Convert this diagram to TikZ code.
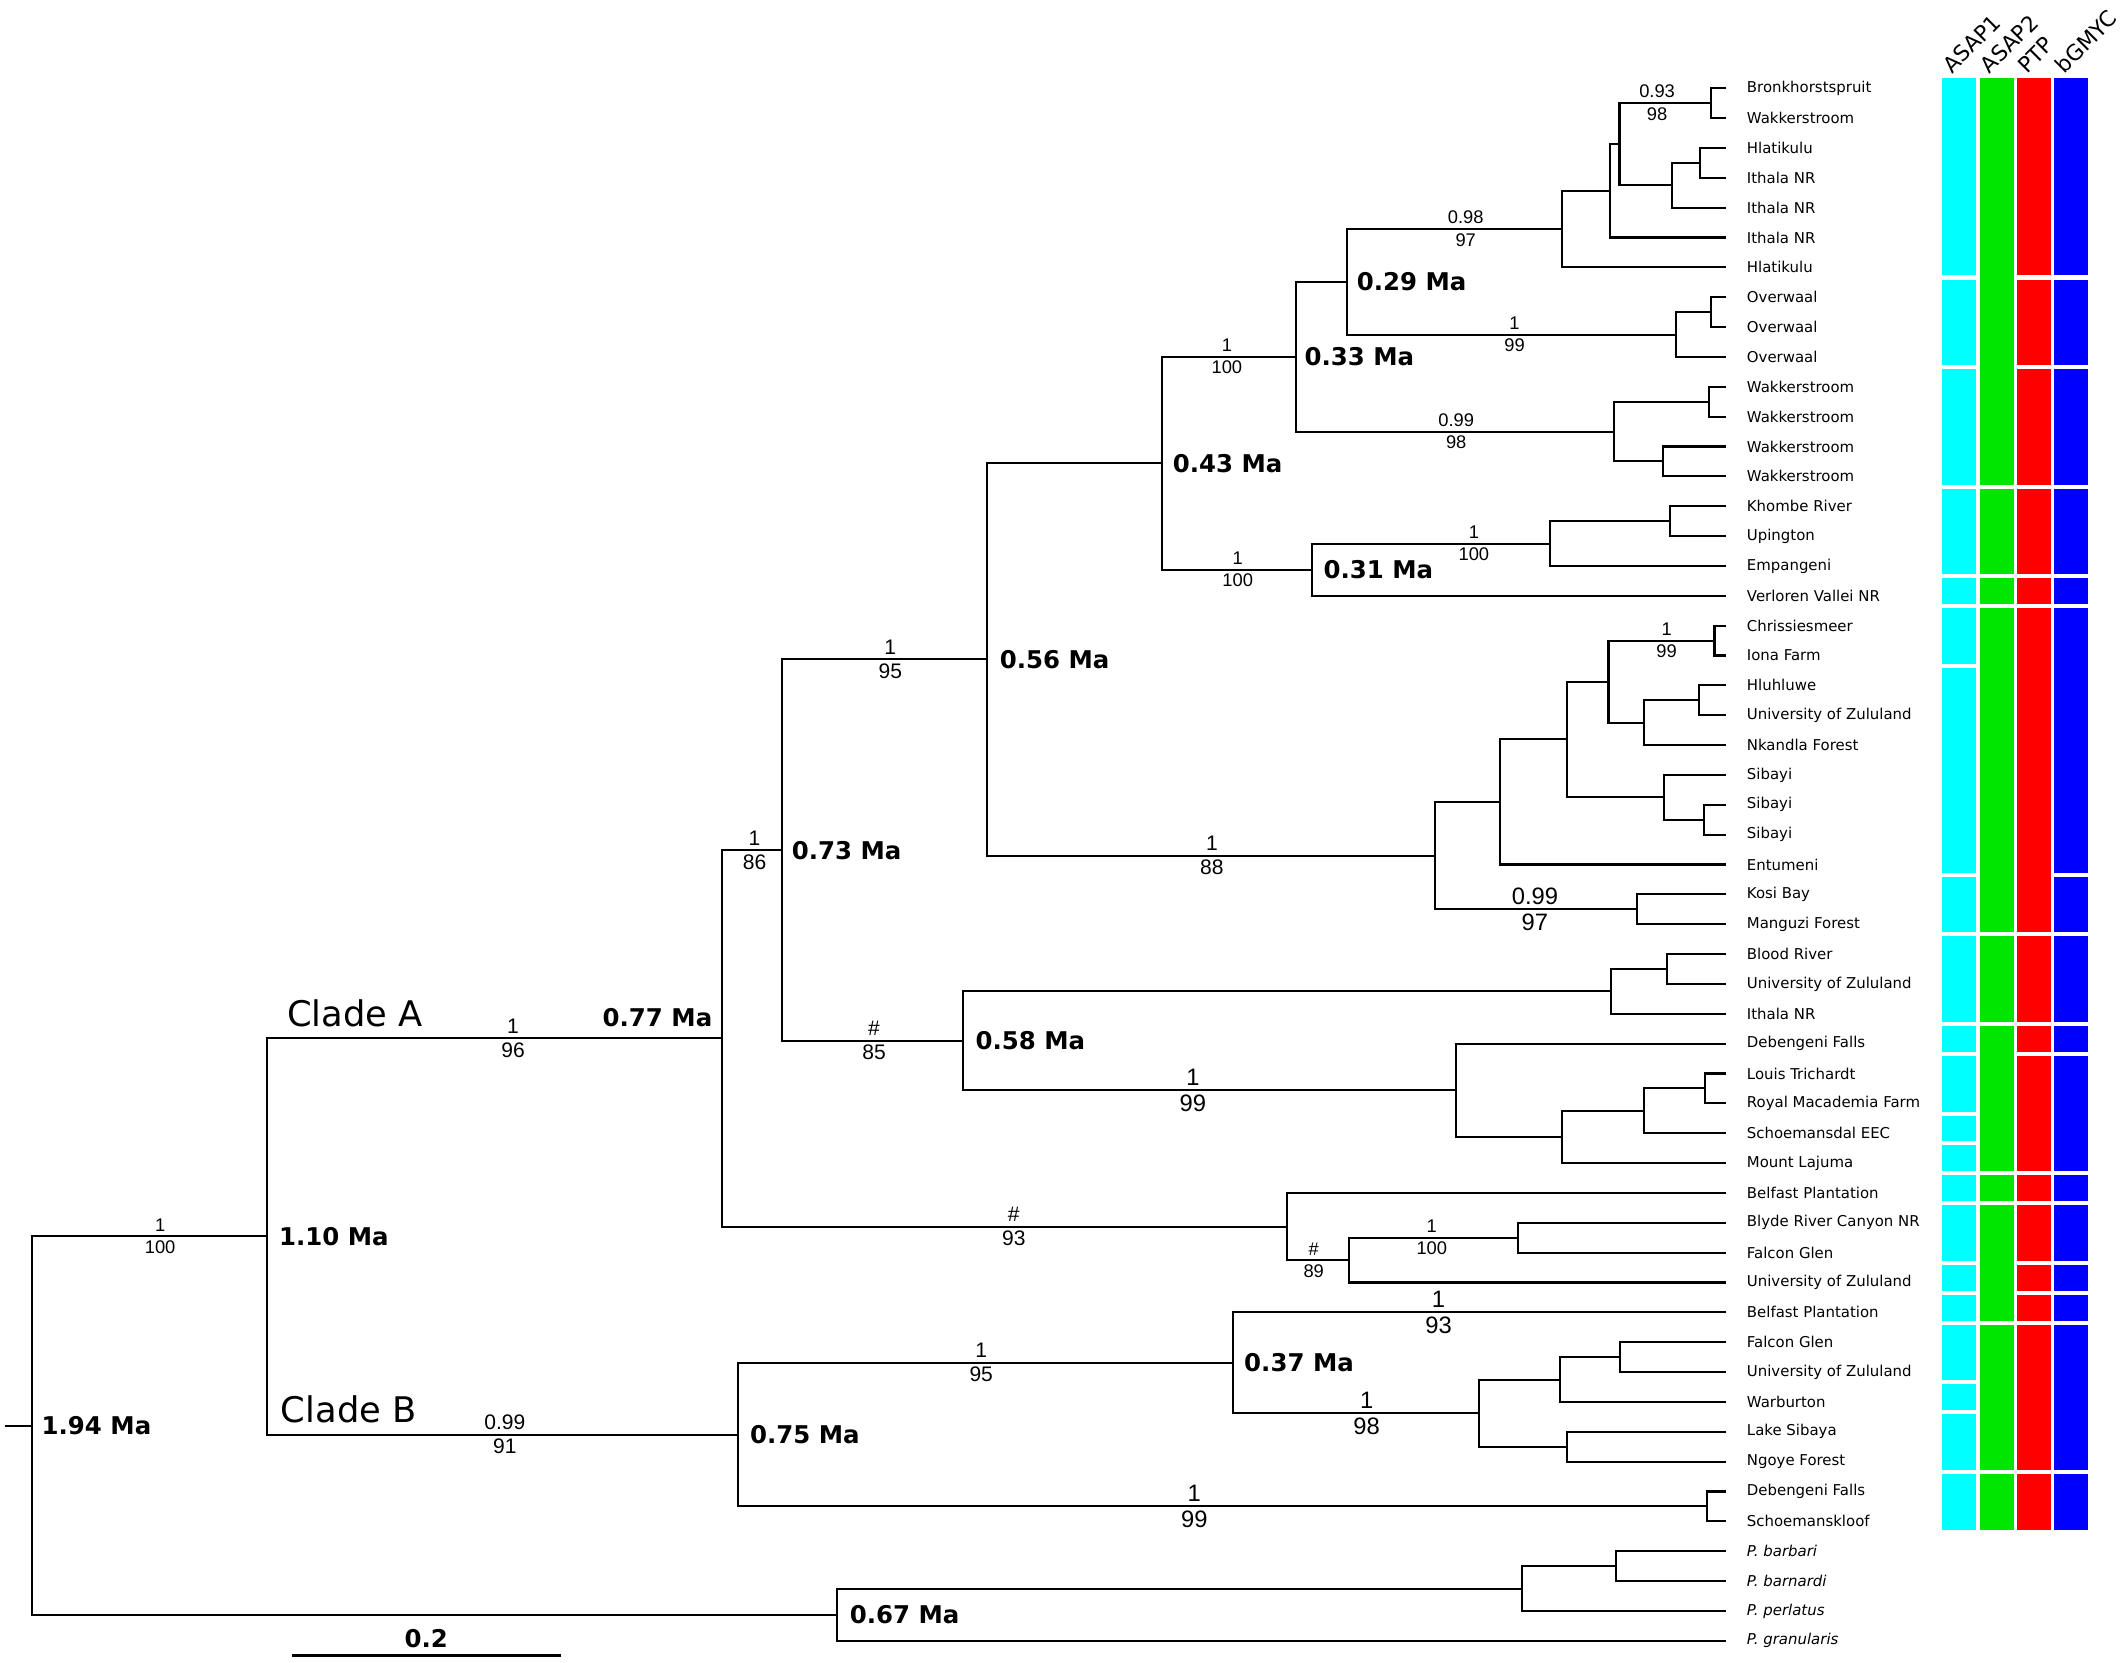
\documentclass[tikz,border=0pt]{standalone}
\usepackage{fontspec}
\setmainfont{DejaVu Sans}
\newfontfamily\suppfont{Liberation Sans}
\usepackage{tikz}
\usetikzlibrary{calc}
\definecolor{asapone}{RGB}{0,255,255}
\definecolor{asaptwo}{RGB}{0,230,0}
\definecolor{ptpred}{RGB}{255,0,0}
\definecolor{gmycblue}{RGB}{0,0,255}
\tikzset{
    branch/.style={line width=1.5pt, line join=miter, draw=black},
    leaflab/.style={anchor=west, inner sep=0pt, font=\fontsize{11}{13}\selectfont},
    age/.style={anchor=west, inner sep=0pt, font=\bfseries\fontsize{18}{20}\selectfont},
    cladelab/.style={anchor=base west, inner sep=0pt, font=\fontsize{26}{30}\selectfont},
    suppS/.style={inner sep=0pt, font=\suppfont\fontsize{13.5}{15}\selectfont},
    suppM/.style={inner sep=0pt, font=\suppfont\fontsize{15.5}{17}\selectfont},
    suppL/.style={inner sep=0pt, font=\suppfont\fontsize{17.5}{19}\selectfont},
    header/.style={anchor=base west, rotate=45, inner sep=0pt, font=\fontsize{16}{18}\selectfont}
}
% internal node: name, x, upper child, lower child
\newcommand{\clade}[4]{%
  \path let \p1=(#3), \p2=(#4) in (#2pt,{(\y1+\y2)/2}) coordinate (#1);
  \draw[branch] (#3) -| (#1) |- (#4);
}
% support values on the branch leading to a child
\newcommand{\supp}[5]{%
  \path let \p1=(#1) in (#2pt,\y1)
    node[#5, anchor=south, yshift=3.5pt] (#1up) {#3}
    node[#5, anchor=north, yshift=-3pt] (#1dn) {#4};
}

\begin{document}
\begin{tikzpicture}[x=1pt, y=-1pt]
    \useasboundingbox (0,0) rectangle (1568,1225);

    % Leaves
    \foreach \nm [count=\i] in {Bronkhorstspruit, Wakkerstroom, Hlatikulu, Ithala NR, Ithala NR, Ithala NR, Hlatikulu,
        Overwaal, Overwaal, Overwaal, Wakkerstroom, Wakkerstroom, Wakkerstroom, Wakkerstroom,
        Khombe River, Upington, Empangeni, Verloren Vallei NR, Chrissiesmeer, Iona Farm, Hluhluwe,
        University of Zululand, Nkandla Forest, Sibayi, Sibayi, Sibayi, Entumeni, Kosi Bay, Manguzi Forest,
        Blood River, University of Zululand, Ithala NR, Debengeni Falls, Louis Trichardt, Royal Macademia Farm,
        Schoemansdal EEC, Mount Lajuma, Belfast Plantation, Blyde River Canyon NR, Falcon Glen,
        University of Zululand, Belfast Plantation, Falcon Glen, University of Zululand, Warburton,
        Lake Sibaya, Ngoye Forest, Debengeni Falls, Schoemanskloof,
        \textit{P. barbari}, \textit{P. barnardi}, \textit{P. perlatus}, \textit{P. granularis}} {
        \coordinate (L\i) at (1272,{65+22*(\i-1)});
        \node[leaflab] (T\i) at (1287,{65+22*(\i-1)}) {\nm};
    }

    % Upper part of clade A
    \clade{a12}{1260.4}{L1}{L2}
    \clade{a34}{1252.8}{L3}{L4}
    \clade{a345}{1231.9}{a34}{L5}
    \clade{a15}{1193.3}{a12}{a345}
    \clade{a16}{1186.4}{a15}{L6}
    \clade{a17}{1151}{a16}{L7}
    \clade{a89}{1260.4}{L8}{L9}
    \clade{a810}{1234.8}{a89}{L10}
    \clade{m029}{992.5}{a17}{a810}
    \clade{a1112}{1259.5}{L11}{L12}
    \clade{a1314}{1225.3}{L13}{L14}
    \clade{a1114}{1189.6}{a1112}{a1314}
    \clade{m033}{955}{m029}{a1114}
    \clade{a1516}{1230.2}{L15}{L16}
    \clade{a1517}{1141.8}{a1516}{L17}
    \clade{m031}{967}{a1517}{L18}
    \clade{m043}{856}{m033}{m031}
    \clade{a1920}{1263.3}{L19}{L20}
    \clade{a2122}{1251.6}{L21}{L22}
    \clade{a2123}{1211.5}{a2122}{L23}
    \clade{a1923}{1185.2}{a1920}{a2123}
    \clade{a2526}{1255.4}{L25}{L26}
    \clade{a2426}{1226.2}{L24}{a2526}
    \clade{a1926}{1154.7}{a1923}{a2426}
    \clade{a1927}{1105.4}{a1926}{L27}
    \clade{a2829}{1206.3}{L28}{L29}
    \clade{a1929}{1057.4}{a1927}{a2829}
    \clade{m056}{727.5}{m043}{a1929}
    % Lower part of clade A
    \clade{a3031}{1228.2}{L30}{L31}
    \clade{a3032}{1186.7}{a3031}{L32}
    \clade{a3435}{1256}{L34}{L35}
    \clade{a3436}{1211.3}{a3435}{L36}
    \clade{a3437}{1150.7}{a3436}{L37}
    \clade{a3337}{1072.9}{L33}{a3437}
    \clade{m058}{709.6}{a3032}{a3337}
    \clade{m073}{576.2}{m056}{m058}
    \clade{a3940}{1118.7}{L39}{L40}
    \clade{a3941}{994}{a3940}{L41}
    \clade{a3841}{948}{L38}{a3941}
    \clade{m077}{532}{m073}{a3841}
    % Clade B
    \clade{a4344}{1194}{L43}{L44}
    \clade{a4345}{1149.2}{a4344}{L45}
    \clade{a4647}{1154.5}{L46}{L47}
    \clade{a4347}{1089.8}{a4345}{a4647}
    \clade{m037}{908.6}{L42}{a4347}
    \clade{a4849}{1258}{L48}{L49}
    \clade{m075}{543.5}{m037}{a4849}
    \clade{m110}{196.4}{m077}{m075}
    % Outgroups and root
    \clade{a5051}{1190.8}{L50}{L51}
    \clade{a5052}{1121.8}{a5051}{L52}
    \clade{m067}{617}{a5052}{L53}
    \clade{root}{23.5}{m110}{m067}
    \path let \p1=(root) in (4pt,\y1) coordinate (stub);
    \draw[branch] (stub) -- (root);

    % Support values
    \supp{a12}{1221}{0.93}{98}{suppS}
    \supp{a17}{1080}{0.98}{97}{suppS}
    \supp{a810}{1116}{1}{99}{suppS}
    \supp{m033}{904}{1}{100}{suppS}
    \supp{a1114}{1073}{0.99}{98}{suppS}
    \supp{a1517}{1086}{1}{100}{suppS}
    \supp{m031}{912}{1}{100}{suppS}
    \supp{a1920}{1228}{1}{99}{suppS}
    \supp{m056}{656}{1}{95}{suppM}
    \supp{m073}{556}{1}{86}{suppM}
    \supp{m077}{378}{1}{96}{suppM}
    \supp{a1929}{893}{1}{88}{suppM}
    \supp{a2829}{1131}{0.99}{97}{suppL}
    \supp{m058}{644}{\#}{85}{suppM}
    \supp{a3337}{879}{1}{99}{suppL}
    \supp{a3841}{747}{\#}{93}{suppM}
    \supp{a3941}{968}{\#}{89}{suppS}
    \supp{a3940}{1055}{1}{100}{suppS}
    \supp{L42}{1060}{1}{93}{suppL}
    \supp{a4347}{1007}{1}{98}{suppL}
    \supp{m037}{723}{1}{95}{suppM}
    \supp{a4849}{880}{1}{99}{suppL}
    \supp{m075}{372}{0.99}{91}{suppM}
    \supp{m110}{118}{1}{100}{suppS}

    % Node ages
    \node[age, xshift=7pt] (t029) at (m029) {0.29 Ma};
    \node[age, xshift=6pt] (t033) at (m033) {0.33 Ma};
    \node[age, xshift=8pt] (t043) at (m043) {0.43 Ma};
    \node[age, xshift=8pt] (t031) at (m031) {0.31 Ma};
    \node[age, xshift=9pt] (t056) at (m056) {0.56 Ma};
    \node[age, xshift=7pt] (t073) at (m073) {0.73 Ma};
    \node[age, xshift=9pt] (t058) at (m058) {0.58 Ma};
    \node[age, anchor=base east, xshift=-7pt, yshift=9pt] (t077) at (m077) {0.77 Ma};
    \node[age, xshift=9pt] (t110) at (m110) {1.10 Ma};
    \node[age, xshift=7pt] (t194) at (root) {1.94 Ma};
    \node[age, xshift=9pt] (t075) at (m075) {0.75 Ma};
    \node[age, xshift=8pt] (t037) at (m037) {0.37 Ma};
    \node[age, xshift=9pt] (t067) at (m067) {0.67 Ma};

    % Clade names
    \node[cladelab] (cladeA) at (211.5,756) {Clade A};
    \node[cladelab] (cladeB) at (206.8,1048) {Clade B};

    % Scale bar
    \coordinate (sb0) at (215,1220);
    \coordinate (sb1) at (413,1220);
    \draw[line width=2.2pt] (sb0) -- (sb1) node[midway, anchor=south, yshift=5pt, inner sep=0pt, font=\bfseries\fontsize{18}{20}\selectfont] (sblab) {0.2};

    % Delimitation columns
    \foreach \a/\b in {1/7,8/10,11/14,15/17,18/18,19/20,21/27,28/29,30/32,33/33,34/35,36/36,37/37,38/38,39/40,41/41,42/42,43/44,45/45,46/47,48/49}
        \fill[asapone] (1431,{max(57.7,52+22*(\a-1))}) rectangle (1456,{71+22*(\b-1)});
    \foreach \a/\b in {1/14,15/17,18/18,19/29,30/32,33/37,38/38,39/42,43/47,48/49}
        \fill[asaptwo] (1458.6,{max(57.7,52+22*(\a-1))}) rectangle (1483.7,{71+22*(\b-1)});
    \foreach \a/\b in {1/7,8/10,11/14,15/17,18/18,19/29,30/32,33/33,34/37,38/38,39/40,41/41,42/42,43/47,48/49}
        \fill[ptpred] (1486.1,{max(57.7,52+22*(\a-1))}) rectangle (1511.2,{71+22*(\b-1)});
    \foreach \a/\b in {1/7,8/10,11/14,15/17,18/18,19/27,28/29,30/32,33/33,34/37,38/38,39/40,41/41,42/42,43/47,48/49}
        \fill[gmycblue] (1513.5,{max(57.7,52+22*(\a-1))}) rectangle (1538.6,{71+22*(\b-1)});

    % Column headers
    \node[header] (hasap1) at (1438.5,55) {ASAP1};
    \node[header] (hasap2) at (1466,55) {ASAP2};
    \node[header] (hptp) at (1493.5,55) {PTP};
    \node[header] (hgmyc) at (1521,55) {bGMYC};
\end{tikzpicture}
\end{document}
